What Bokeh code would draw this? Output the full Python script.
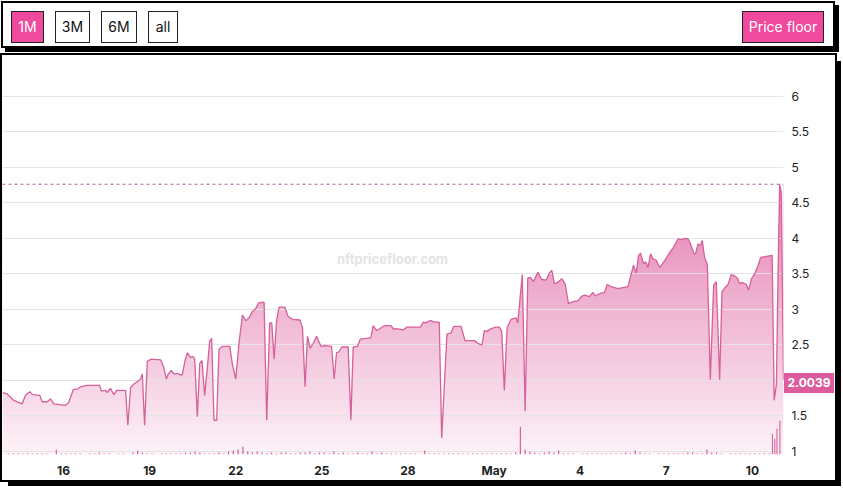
import numpy as np
from bokeh.plotting import figure
from bokeh.layouts import column
from bokeh.models import Range1d, FixedTicker, NumeralTickFormatter, Span, Label, Div
from bokeh.embed import file_html
from bokeh.resources import INLINE

# ---------------- data (hours since 2022-04-14 00:00) ----------------
price_hours = [
    -3.0, 0.9, 6.4, 13.4, 16.2, 19.8, 22.3, 28.2, 30.2, 34.4,
    37.1, 39.9, 49.7, 52.4, 56.1, 60.0, 62.2, 67.8, 78.1, 79.8,
    83.2, 84.6, 87.3, 90.1, 92.4, 99.9, 101.8, 104.1, 106.9, 111.0,
    112.5, 113.9, 115.8, 118.1, 121.4, 129.2, 131.5, 134.0, 135.6, 138.2,
    140.3, 143.2, 145.4, 147.4, 149.5, 151.6, 154.3, 156.2, 157.7, 159.9,
    161.9, 163.8, 166.0, 168.3, 170.2, 171.9, 173.8, 176.1, 178.0, 180.9,
    187.0, 189.2, 192.0, 194.8, 197.6, 200.4, 203.1, 205.9, 208.7, 211.0,
    215.7, 217.9, 220.4, 222.1, 224.1, 226.1, 228.2, 233.0, 235.8, 239.5,
    245.8, 247.8, 250.0, 252.0, 254.2, 257.0, 259.6, 263.2, 266.5, 272.1,
    274.3, 276.3, 278.2, 280.7, 286.0, 288.3, 290.2, 293.9, 296.1, 305.0,
    306.9, 309.8, 312.6, 316.2, 321.8, 324.0, 326.0, 332.1, 335.2, 346.3,
    348.8, 351.1, 353.0, 355.2, 358.0, 362.2, 364.2, 368.6, 372.0, 374.3,
    380.4, 383.7, 391.5, 395.7, 397.9, 399.9, 402.1, 405.5, 409.7, 412.4,
    414.4, 416.6, 418.9, 422.2, 426.4, 427.8, 431.6, 434.0, 436.2, 438.4,
    440.9, 444.6, 447.9, 451.5, 454.3, 456.3, 458.5, 461.3, 464.7, 467.4,
    470.2, 473.9, 478.1, 480.9, 483.6, 487.8, 490.6, 492.6, 496.2, 500.4,
    502.6, 506.0, 511.6, 519.9, 522.7, 524.6, 526.9, 528.8, 530.5, 533.0,
    534.7, 536.7, 538.9, 540.9, 543.6, 546.4, 549.2, 552.0, 554.8, 557.6,
    561.8, 565.1, 567.3, 570.2, 572.3, 575.2, 576.5, 578.5, 580.4, 582.1,
    584.0, 586.3, 588.8, 591.6, 593.8, 596.6, 598.6, 600.8, 603.6, 606.4,
    609.2, 611.4, 613.3, 615.4, 619.0, 620.9, 623.2, 625.9, 628.8, 630.9,
    634.3, 640.5, 642.2, 644.1, 645.5, 646.8, 648.2, 650.0,
]
price_floor = [
    1.83, 1.81, 1.72, 1.67, 1.79, 1.84, 1.80, 1.79, 1.70, 1.70,
    1.74, 1.67, 1.65, 1.69, 1.87, 1.88, 1.91, 1.93, 1.93, 1.85,
    1.86, 1.83, 1.89, 1.80, 1.86, 1.86, 1.37, 1.90, 1.95, 2.00,
    2.02, 2.09, 1.37, 2.27, 2.30, 2.29, 2.20, 2.02, 2.09, 2.14,
    2.09, 2.10, 2.08, 2.08, 2.27, 2.39, 2.32, 2.34, 2.30, 1.49,
    2.24, 2.28, 1.79, 2.18, 2.55, 2.59, 1.44, 1.44, 2.44, 2.48,
    2.48, 2.23, 2.02, 2.53, 2.92, 2.84, 2.88, 2.97, 3.01, 3.09,
    3.10, 1.44, 2.81, 2.81, 2.30, 2.83, 3.03, 3.03, 2.90, 2.86,
    2.85, 2.74, 1.91, 2.62, 2.45, 2.53, 2.62, 2.48, 2.49, 2.48,
    2.02, 2.39, 2.40, 2.47, 2.47, 1.44, 2.47, 2.48, 2.58, 2.60,
    2.77, 2.70, 2.73, 2.77, 2.77, 2.72, 2.73, 2.71, 2.75, 2.75,
    2.82, 2.81, 2.83, 2.84, 2.82, 2.82, 1.19, 2.65, 2.67, 2.76,
    2.76, 2.56, 2.56, 2.51, 2.50, 2.70, 2.69, 2.73, 2.75, 2.75,
    2.69, 1.86, 2.74, 2.86, 2.88, 2.81, 3.49, 1.57, 3.44, 3.45,
    3.39, 3.52, 3.42, 3.41, 3.51, 3.55, 3.36, 3.38, 3.43, 3.36,
    3.08, 3.11, 3.12, 3.18, 3.20, 3.18, 3.24, 3.19, 3.22, 3.24,
    3.35, 3.32, 3.29, 3.32, 3.50, 3.62, 3.51, 3.76, 3.79, 3.64,
    3.67, 3.59, 3.78, 3.71, 3.69, 3.59, 3.65, 3.72, 3.80, 3.86,
    3.99, 3.98, 4.00, 3.99, 3.92, 3.78, 3.78, 3.92, 3.90, 3.97,
    3.73, 3.63, 2.01, 3.34, 3.39, 2.01, 3.25, 3.30, 3.35, 3.49,
    3.47, 3.44, 3.36, 3.38, 3.35, 3.27, 3.43, 3.50, 3.62, 3.73,
    3.74, 3.76, 1.72, 1.95, 3.57, 4.76, 4.63, 2.0039,
]

# sales volume, 4-hour bins starting 2022-04-14 00:00 (one row per day)
volume_4h = [
    1, 1, 1, 1, 1, 1,   # Apr 14
    1, 1, 1, 0, 5, 1,   # Apr 15
    1, 1, 1, 1, 0, 1,   # Apr 16
    1, 2, 1, 1, 0, 1,   # Apr 17
    1, 0, 2, 4, 2, 1,   # Apr 18
    1, 0, 1, 1, 1, 1,   # Apr 19
    1, 2, 2, 3, 2, 1,   # Apr 20
    1, 1, 2, 1, 3, 4,   # Apr 21
    5, 8, 3, 2, 3, 2,   # Apr 22
    1, 2, 1, 2, 2, 1,   # Apr 23
    1, 2, 2, 3, 1, 2,   # Apr 24
    2, 1, 3, 1, 2, 1,   # Apr 25
    1, 2, 1, 1, 3, 1,   # Apr 26
    2, 1, 1, 1, 1, 1,   # Apr 27
    1, 1, 0, 4, 1, 1,   # Apr 28
    1, 1, 1, 1, 1, 1,   # Apr 29
    1, 1, 1, 1, 1, 1,   # Apr 30
    1, 1, 1, 1, 2, 28,  # May 1
    5, 3, 2, 1, 2, 3,   # May 2
    2, 4, 1, 1, 1, 0,   # May 3
    1, 1, 1, 1, 1, 1,   # May 4
    1, 1, 1, 2, 1, 4,   # May 5
    2, 1, 1, 0, 1, 1,   # May 6
    1, 1, 1, 1, 2, 2,   # May 7
    1, 1, 5, 2, 2, 1,   # May 8
    0, 1, 1, 1, 1, 1,   # May 9
    1, 1, 1, 1, 0, 0,   # May 10
]
spike_hours = [640.75, 642.75, 644.5, 647.0]
spike_volume = [21, 16, 26, 34]

x_tick_hours = [48, 120, 192, 264, 336, 408, 480, 552, 624]
x_tick_labels = ["16", "19", "22", "25", "28", "May", "4", "7", "10"]
y_ticks = [1, 1.5, 2, 2.5, 3, 3.5, 4, 4.5, 5, 5.5, 6]

range_buttons = ["1M", "3M", "6M", "all"]
active_range = "1M"
metric_button = "Price floor"
watermark = "nftpricefloor.com"

# ---------------- styles / layout ----------------
PINK = "#ef4a9d"
LINE = "#d75f9b"
FONT = "Inter"

TOP_H = 50
GAP = 5
MAIN_W, MAIN_H = 833, 425
MAIN_LEFT = 2
BORDER_TOP = 3
FRAME_H = 400
FRAME_W = 781

# ---- top bar (HTML buttons) ----
btn_left = [8, 52, 98, 145]
btn_width = [33, 35, 36, 30]


def button(label, left, width, active):
    bg = PINK if active else "#ffffff"
    fg = "#ffffff" if active else "#111111"
    return (f'<span style="position:absolute;left:{left}px;top:8px;width:{width}px;height:32px;'
            f'box-sizing:border-box;border:1px solid #222;background:{bg};color:{fg};'
            f'display:flex;align-items:center;justify-content:center;">{label}</span>')


buttons_html = "".join(button(b, l, w, b == active_range)
                       for b, l, w in zip(range_buttons, btn_left, btn_width))
buttons_html += button(metric_button, 739, 82, True)
top_html = ('<div style="position:absolute;left:1px;top:1px;width:834px;height:47px;'
            'box-sizing:border-box;border:2px solid #000;box-shadow:4px 4px 0 #000;'
            f'background:#fff;font-family:{FONT};font-size:14px;">' + buttons_html + '</div>')
top = Div(text=top_html, width=835, height=TOP_H, margin=(0, 0, 0, 0),
          styles={"flex-shrink": "0", "position": "relative"})

# ---- main chart ----
y_lo, y_hi = 0.958, 6.529
x_lo, x_hi = -3.0, price_hours[-1]

p = figure(width=MAIN_W, height=MAIN_H, x_range=Range1d(x_lo, x_hi), y_range=Range1d(y_lo, y_hi),
           output_backend="svg", toolbar_location=None, tools="",
           y_axis_location="right",
           min_border_left=0, min_border_right=MAIN_W - FRAME_W, min_border_top=BORDER_TOP,
           min_border_bottom=MAIN_H - BORDER_TOP - FRAME_H)
p.outline_line_color = None
p.background_fill_color = "white"
p.border_fill_color = "white"
p.styles = {"outline": "2px solid #000", "box-shadow": "6px 6px 0 #000",
            "margin-left": f"{MAIN_LEFT}px", "flex-shrink": "0"}

# gradient under the curve: gradient image + white mask above the line
pmax = max(price_floor)
n = 256
t = np.linspace(0, 1, n)[:, None]
c_bot = np.array([253, 243, 248])
c_top = np.array([229, 128, 178])
cols = (c_bot + (c_top - c_bot) * t).astype(np.uint8)
img = np.empty((n, 1), dtype=np.uint32)
view = img.view(dtype=np.uint8).reshape((n, 1, 4))
view[:, 0, 0] = cols[:, 0]
view[:, 0, 1] = cols[:, 1]
view[:, 0, 2] = cols[:, 2]
view[:, 0, 3] = 255
p.image_rgba(image=[img], x=x_lo, y=y_lo, dw=x_hi - x_lo, dh=pmax - y_lo, level="image")
p.varea(x=price_hours, y1=price_floor, y2=[y_hi] * len(price_floor),
        fill_color="white", level="image")

# volume bars
p.extra_y_ranges = {"vol": Range1d(0, FRAME_H)}
vol_hours = [2 + 4 * i for i in range(len(volume_4h))]
p.vbar(x=vol_hours, top=volume_4h, bottom=0, width=1.0, y_range_name="vol",
       fill_color=LINE, line_color=None)
p.vbar(x=spike_hours, top=spike_volume, bottom=0, width=0.9, y_range_name="vol",
       fill_color=LINE, line_color=None)

p.line(price_hours, price_floor, line_color=LINE, line_width=1.3)

p.add_layout(Span(location=pmax, dimension="width", line_color="#b0609a",
                  line_dash="3 3", line_width=1))

p.add_layout(Label(x=390, y=196, x_units="screen", y_units="screen", text=watermark,
                   text_align="center", text_baseline="middle", text_font=FONT,
                   text_font_size="13px", text_font_style="bold", text_color="#e4e4e4"))

p.xgrid.grid_line_color = None
p.ygrid.grid_line_color = "#e4e4e4"

xa = p.xaxis[0]
xa.ticker = FixedTicker(ticks=x_tick_hours)
xa.major_label_overrides = dict(zip(x_tick_hours, x_tick_labels))
xa.axis_line_color = None
xa.major_tick_line_color = None
xa.minor_tick_line_color = None
xa.major_tick_out = 0
xa.major_tick_in = 0
xa.minor_tick_out = 0
xa.major_label_standoff = 8
xa.major_label_text_font = FONT
xa.major_label_text_font_size = "12px"
xa.major_label_text_font_style = "bold"
xa.major_label_text_color = "#222222"

ya = p.yaxis[0]
ya.ticker = FixedTicker(ticks=y_ticks)
ya.formatter = NumeralTickFormatter(format="0.[0]")
ya.axis_line_color = None
ya.major_tick_line_color = None
ya.minor_tick_line_color = None
ya.major_tick_out = 0
ya.major_tick_in = 0
ya.minor_tick_out = 0
ya.major_label_standoff = 8
ya.major_label_text_font = FONT
ya.major_label_text_font_size = "12px"
ya.major_label_text_color = "#222222"

# ---- last-value tag on the price axis (HTML overlay, placed via the y scale) ----
last = price_floor[-1]
tag_h, tag_w = 20, 50
tag_cy = TOP_H + GAP + BORDER_TOP + (y_hi - last) / (y_hi - y_lo) * FRAME_H
tag_html = (f'<div style="width:{tag_w}px;height:{tag_h}px;background:#dc5c9c;color:#fff;'
            f'font-family:{FONT};font-size:12px;font-weight:bold;display:flex;'
            f'align-items:center;justify-content:center;">{last:.4f}</div>')
tag = Div(text=tag_html, width=tag_w, height=tag_h, margin=(0, 0, 0, 0),
          styles={"position": "absolute", "left": f"{MAIN_LEFT + FRAME_W + 1}px",
                  "top": f"{tag_cy - tag_h / 2:.0f}px", "z-index": "10"})

root = column(top, p, tag, spacing=GAP, styles={"position": "relative"})

open("out.html", "w").write(file_html(root, INLINE))
